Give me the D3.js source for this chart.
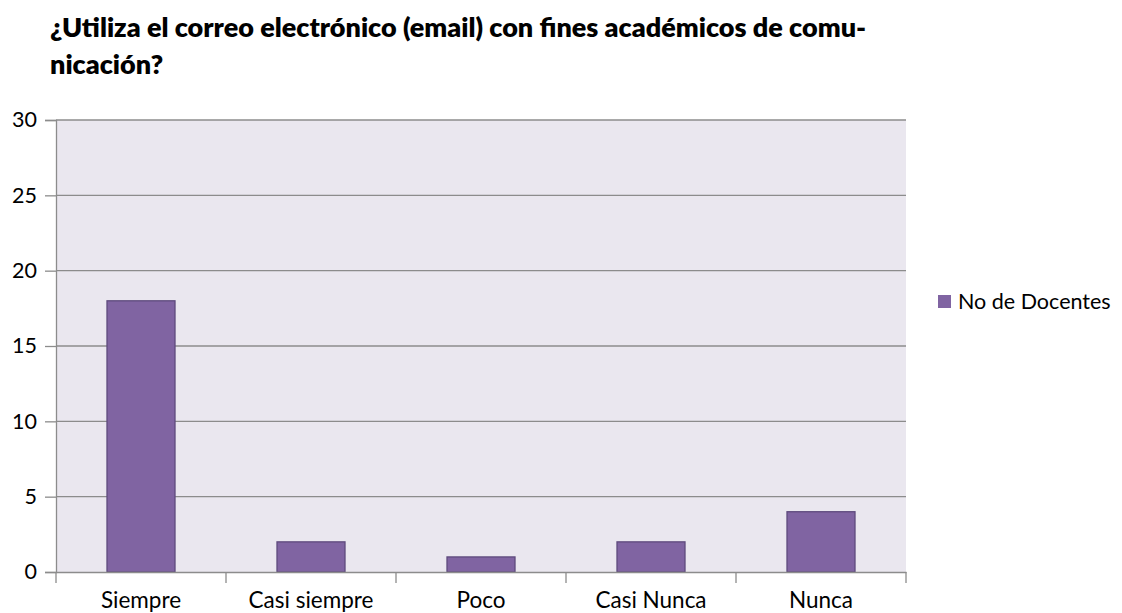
<!DOCTYPE html>
<html><head><meta charset="utf-8">
<script src="https://cdn.jsdelivr.net/npm/d3@7"></script>
<style>body{margin:0;background:#fff;font-family:Lato,sans-serif;}</style>
</head><body><svg id="c" width="1122" height="613"></svg>
<script>
const categories = ["Siempre","Casi siempre","Poco","Casi Nunca","Nunca"];
const values = [18,2,1,2,4];
const seriesName = "No de Docentes";
const yTicks = [0,5,10,15,20,25,30];
const titleLines = ["¿Utiliza el correo electrónico (email) con fines académicos de comu-","nicación?"];

const svg = d3.select("#c");
const m = {l:56, r:906, t:120, b:572};
const x = d3.scaleBand().domain(categories).range([m.l,m.r]).paddingInner(0.6).paddingOuter(0.3);
const xb = d3.scaleBand().domain(categories).range([m.l,m.r]);
const y = d3.scaleLinear().domain([0,30]).range([m.b,m.t]);

svg.append("rect").attr("x",m.l).attr("y",m.t).attr("width",m.r-m.l).attr("height",m.b-m.t).attr("fill","#eae7ef");

svg.selectAll(".title").data(titleLines).enter().append("text")
  .attr("x",50).attr("y",(d,i)=>37+i*37)
  .attr("font-size",27).attr("font-weight",800).attr("fill","#000").text(d=>d);

// grid
svg.append("g").selectAll("line").data(yTicks.filter(d=>d>0)).enter().append("line")
  .attr("x1",m.l).attr("x2",m.r).attr("y1",d=>y(d)).attr("y2",d=>y(d))
  .attr("stroke","#8c8c8c").attr("stroke-width",1.3);

const yAxis = svg.append("g").attr("transform",`translate(${m.l},0)`)
  .call(d3.axisLeft(y).tickValues(yTicks).tickSize(11).tickPadding(8));
yAxis.select(".domain").attr("stroke","#8c8c8c").attr("stroke-width",1.3);
yAxis.selectAll(".tick line").attr("stroke","#8c8c8c").attr("stroke-width",1.3);
yAxis.selectAll("text").attr("font-size",21.5).attr("font-family","Lato").attr("fill","#000");

svg.append("g").selectAll("rect").data(values).enter().append("rect")
  .attr("x",(d,i)=>x(categories[i])).attr("y",d=>y(d))
  .attr("width",x.bandwidth()).attr("height",d=>y(0)-y(d))
  .attr("fill","#8064a2").attr("stroke","#5e4a7d").attr("stroke-width",1.3);

const xAxis = svg.append("g").attr("transform",`translate(0,${m.b})`)
  .call(d3.axisBottom(xb).tickSize(0).tickPadding(0));
xAxis.select(".domain").attr("stroke","#8c8c8c").attr("stroke-width",1.3);
xAxis.selectAll("text").attr("dy",null).attr("y",36).attr("font-size",22.5).attr("font-family","Lato").attr("fill","#000");
const bounds = [m.l].concat(categories.map(c=>xb(c)+xb.bandwidth()));
svg.append("g").selectAll("line").data(bounds).enter().append("line")
  .attr("x1",d=>d).attr("x2",d=>d).attr("y1",m.b).attr("y2",m.b+11)
  .attr("stroke","#8c8c8c").attr("stroke-width",1.3);

const lg = svg.append("g");
lg.append("rect").attr("x",938).attr("y",295).attr("width",13).attr("height",13).attr("fill","#8064a2");
lg.append("text").attr("x",958).attr("y",309).attr("font-size",21.5).attr("fill","#000").text(seriesName);
</script></body></html>
